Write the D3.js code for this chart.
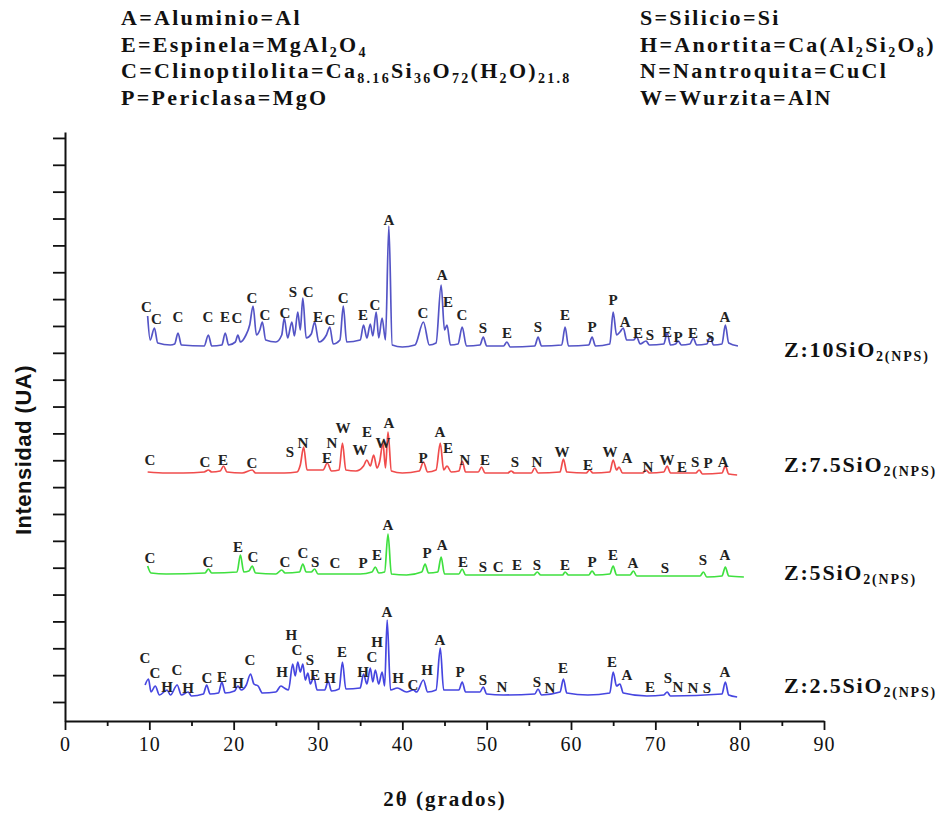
<!DOCTYPE html>
<html><head><meta charset="utf-8">
<script src="https://cdn.jsdelivr.net/npm/d3@7/dist/d3.min.js"></script>
<style>
body{margin:0;background:#fff;}
svg{display:block;}
text{font-family:"Liberation Serif","Times New Roman",serif;}
</style></head>
<body>
<svg id="chart" width="951" height="813"></svg>
<script>
// ---------- DATA ----------
const xTickLabels = [0,10,20,30,40,50,60,70,80,90];
const xMinorTicks = [5,15,25,35,45,55,65,75,85];
const yTickValues = d3.range(0,22).map(k => 19 + k*26.86);   // intensity ticks (a.u.)

const seriesNames = ["Z:10SiO_{2(NPS)}","Z:7.5SiO_{2(NPS)}","Z:5SiO_{2(NPS)}","Z:2.5SiO_{2(NPS)}"];
const seriesColors = ["#5454c6","#f04c4c","#3fe03f","#4646e0"];
const seriesLabelY = [364, 249, 141, 28];   // intensity level of each series name

const trace10 = [[9.8,405],[10.1,381],[10.6,393],[11.0,378],[12.5,376],[13.0,377],[13.4,388],[13.8,376],[16.5,375],[17.0,386],[17.4,375],[18.6,376],[19.0,388],[19.4,376],[20.2,379],[20.5,386],[20.8,379],[21.4,385],[21.9,396],[22.3,415],[22.7,386],[23.1,391],[23.4,399],[23.8,381],[25.0,379],[25.7,386],[26.0,403],[26.4,383],[26.9,399],[27.2,385],[27.6,409],[27.9,391],[28.2,423],[28.6,383],[29.2,387],[29.6,399],[30.1,379],[31.0,386],[31.4,394],[31.8,377],[32.6,381],[33.0,415],[33.4,379],[35.0,381],[35.4,396],[35.8,383],[36.2,397],[36.5,385],[36.9,409],[37.2,383],[37.6,403],[38.0,381],[38.4,495],[38.8,376],[40.0,374],[41.5,376],[42.5,399],[43.2,376],[44.0,378],[44.6,436],[45.0,391],[45.3,396],[45.7,376],[46.6,377],[47.1,394],[47.6,375],[49.2,376],[49.6,384],[50.0,375],[52.0,375],[52.4,379],[52.8,374],[55.7,375],[56.1,384],[56.5,375],[58.9,376],[59.3,394],[59.7,375],[62.1,376],[62.5,384],[62.9,375],[64.6,377],[65.0,409],[65.4,386],[65.8,389],[66.2,393],[66.6,381],[67.4,381],[67.8,384],[68.2,377],[68.9,380],[69.3,376],[71.0,377],[71.4,388],[71.8,376],[72.4,377],[72.7,380],[73.1,376],[74.1,377],[74.5,383],[74.9,376],[76.1,377],[76.5,384],[76.9,376],[77.9,377],[78.3,396],[78.7,378],[79.8,375]];

const trace75 = [[9.8,249],[12,248],[14,248],[16.5,249],[17.0,251],[17.4,249],[18.4,250],[18.8,255],[19.2,249],[21,248],[22.2,251],[22.6,248],[26,248],[27.5,249],[27.9,256],[28.3,274],[28.7,251],[30.6,251],[31.1,258],[31.6,250],[32.5,251],[32.9,278],[33.3,251],[34.5,250],[35.4,255],[35.8,261],[36.2,255],[36.6,266],[37.0,253],[37.3,259],[37.7,278],[38.0,253],[38.3,289],[38.7,250],[40,248],[42.0,250],[42.5,259],[43.0,249],[44.0,251],[44.5,278],[44.9,251],[45.3,255],[45.8,249],[46.7,250],[47.1,260],[47.5,249],[49.0,249],[49.4,254],[49.8,248],[52.5,248],[52.9,250],[53.3,248],[55.3,248],[55.7,253],[56.1,248],[58.7,249],[59.1,262],[59.5,249],[61.8,248],[62.2,251],[62.6,248],[64.6,249],[65.0,261],[65.4,251],[65.7,254],[66.1,248],[68.5,248],[68.9,251],[69.3,248],[71.0,249],[71.4,255],[71.8,248],[74.8,248],[75.2,251],[75.6,247],[77.9,248],[78.3,255],[78.7,247],[79.7,246]];

const trace5 = [[9.8,155],[10.2,148],[12,147],[16.6,148],[17.0,152],[17.4,148],[20.4,149],[20.8,166],[21.2,149],[21.8,150],[22.2,155],[22.6,148],[25,147],[25.7,151],[26.1,148],[27.8,149],[28.2,157],[28.6,149],[29.2,149],[29.6,152],[30.0,147],[33,147],[35,147],[36.4,149],[36.8,154],[37.2,148],[37.9,149],[38.3,187],[38.7,147],[40.5,146],[42.3,149],[42.7,157],[43.1,148],[44.2,149],[44.6,164],[45.0,147],[46.7,147],[47.1,152],[47.5,146],[55.6,146],[56.0,149],[56.4,146],[59.0,146],[59.3,149],[59.7,146],[62.1,146],[62.5,150],[62.9,146],[64.6,147],[65.0,155],[65.4,146],[67.0,146],[67.4,150],[67.8,145],[75.3,145],[75.7,149],[76.1,144],[77.9,145],[78.3,154],[78.7,145],[80.5,144]];

const trace25 = [[9.5,36],[9.9,42],[10.2,29],[10.7,35],[11.2,26],[12.1,31],[12.5,26],[13.3,36],[13.8,26],[14.6,29],[15.0,25],[16.4,27],[16.8,36],[17.2,27],[18.2,28],[18.6,39],[19.0,28],[20.1,30],[20.5,35],[20.9,31],[21.5,36],[22.0,47],[22.4,37],[22.9,35],[23.4,28],[25.0,29],[25.6,35],[26.0,33],[26.5,31],[27.0,57],[27.3,45],[27.6,59],[27.9,49],[28.2,57],[28.5,41],[28.8,48],[29.1,37],[29.5,44],[29.9,31],[30.8,31],[31.2,40],[31.6,30],[32.5,32],[32.9,59],[33.3,32],[35.0,33],[35.4,47],[35.8,37],[36.2,53],[36.5,39],[36.8,51],[37.2,37],[37.6,49],[37.9,35],[38.2,101],[38.6,31],[39.4,33],[40.5,29],[41.3,31],[41.7,29],[42.5,41],[43.0,29],[44.0,31],[44.5,73],[44.9,31],[46.7,31],[47.1,39],[47.5,29],[49.2,29],[49.6,34],[50.0,27],[52,26],[55.7,27],[56.1,32],[56.5,26],[58.7,29],[59.1,42],[59.5,28],[62,26],[64.6,28],[65.0,49],[65.4,35],[65.8,37],[66.2,28],[69,25],[71,26],[71.4,29],[71.8,25],[77.9,27],[78.3,39],[78.7,26],[79.7,24]];

// peak identification letters: [letter, 2theta, intensity]
const peaks10 = [["C",9.65,414],["C",10.85,402],["C",13.4,404],["C",16.96,404],["E",18.97,404],["C",20.4,403],["C",22.17,423],["C",23.72,406],["C",26.09,408],["S",27.04,429],["C",28.82,429],["E",30.0,404],["C",31.42,401],["C",32.97,423],["E",35.34,406],["C",36.76,416],["A",38.42,501],["C",42.45,408],["A",44.71,446],["E",45.42,419],["C",47.08,406],["S",49.57,393],["E",52.41,388],["S",56.09,394],["E",59.29,406],["P",62.49,394],["P",64.98,421],["A",66.41,399],["E",67.95,388],["S",69.37,386],["E",71.39,389],["P",72.69,384],["E",74.47,388],["S",76.49,384],["A",78.26,404]];
const peaks75 = [["C",10.08,261],["C",16.6,259],["E",18.74,261],["C",22.17,258],["S",26.68,269],["N",28.22,278],["E",31.07,263],["N",31.66,278],["W",32.97,293],["W",34.98,271],["E",35.81,289],["W",37.71,278],["A",38.42,298],["P",42.45,263],["A",44.47,289],["E",45.42,273],["N",47.43,261],["E",49.8,261],["S",53.36,259],["N",55.97,259],["W",58.94,269],["E",62.02,256],["W",64.63,269],["A",66.64,263],["N",69.13,254],["W",71.39,261],["E",73.17,254],["S",74.71,259],["P",76.25,258],["A",78.03,259]];
const peaks5 = [["C",10.08,163],["C",16.96,159],["E",20.51,174],["C",22.29,164],["C",26.09,159],["C",28.22,168],["S",29.65,159],["C",32.02,158],["P",35.34,158],["E",37.0,166],["A",38.3,196],["P",42.93,168],["A",44.71,176],["E",47.2,159],["S",49.57,154],["C",51.35,154],["E",53.6,156],["S",55.97,156],["E",59.29,156],["P",62.49,159],["E",64.98,166],["A",67.35,158],["S",71.15,153],["S",75.65,161],["A",78.26,166]];
const peaks25 = [["C",9.49,63],["C",10.67,48],["H",12.1,34],["C",13.28,51],["H",14.59,33],["C",16.84,43],["E",18.62,44],["H",20.51,38],["C",21.94,61],["H",25.73,49],["H",26.85,86],["C",27.51,71],["S",29.05,61],["E",29.65,46],["H",31.42,43],["E",32.85,69],["H",35.34,49],["C",36.4,64],["H",37.0,79],["A",38.18,109],["H",39.49,43],["C",41.27,36],["H",42.93,51],["A",44.47,81],["P",46.84,49],["S",49.57,41],["N",51.82,34],["S",55.97,39],["N",57.51,33],["E",59.05,53],["E",64.86,59],["A",66.64,46],["E",69.37,34],["S",71.5,43],["N",72.69,34],["N",74.47,33],["S",76.13,33],["A",78.26,49]];

const legendLeft = ["A=Aluminio=Al","E=Espinela=MgAl_{2}O_{4}","C=Clinoptilolita=Ca_{8.16}Si_{36}O_{72}(H_{2}O)_{21.8}","P=Periclasa=MgO"];
const legendRight = ["S=Silicio=Si","H=Anortita=Ca(Al_{2}Si_{2}O_{8})","N=Nantroquita=CuCl","W=Wurzita=AlN"];
const xTitle = "2θ (grados)";
const yTitle = "Intensidad (UA)";

// ---------- CHART ----------
const svg = d3.select("#chart");
const x = d3.scaleLinear().domain([0,90]).range([65,824]);
const y = d3.scaleLinear().domain([0,589]).range([721,132]);

function rich(sel, str, subSize, shift){
  const parts = str.split(/(_\{[^}]*\})/).filter(s => s.length);
  let down = false;
  parts.forEach(p => {
    if (p.startsWith("_{")) {
      sel.append("tspan").attr("font-size", subSize).attr("dy", down ? 0 : shift).text(p.slice(2,-1));
      down = true;
    } else {
      sel.append("tspan").attr("dy", down ? -shift : 0).text(p);
      down = false;
    }
  });
}

// legend
const lg = svg.append("g").attr("font-weight","bold").attr("font-size",22).attr("letter-spacing","2.3px").attr("fill","#111");
legendLeft.forEach((s,i)=>{ rich(lg.append("text").attr("x",121).attr("y",25+i*26.7), s, 14, 5); });
legendRight.forEach((s,i)=>{ rich(lg.append("text").attr("x",640).attr("y",25+i*26.7), s, 14, 5); });

// axes
const xAxis = svg.append("g").attr("transform",`translate(0,${y.range()[0]})`)
  .call(d3.axisBottom(x).tickValues(xTickLabels).tickSize(9).tickSizeOuter(0).tickPadding(7).tickFormat(d3.format("d")));
svg.append("g").attr("transform",`translate(0,${y.range()[0]})`)
  .call(d3.axisBottom(x).tickValues(xMinorTicks).tickSize(5).tickFormat("")).select(".domain").remove();
const yAxis = svg.append("g").attr("transform",`translate(${x.range()[0]},0)`)
  .call(d3.axisLeft(y).tickValues(yTickValues).tickSize(12).tickSizeOuter(0).tickFormat(""));
svg.selectAll(".domain").attr("stroke","#111").attr("stroke-width",2);
svg.selectAll(".tick line").attr("stroke","#111").attr("stroke-width",1.8);
xAxis.selectAll(".tick text").attr("font-size",20).attr("font-family","Liberation Serif, serif").attr("fill","#111").attr("letter-spacing","1px");

// titles
svg.append("text").attr("x",445).attr("y",806).attr("text-anchor","middle")
  .attr("font-weight","bold").attr("font-size",21).attr("letter-spacing","2px").attr("fill","#111").text(xTitle);
svg.append("text").attr("transform","translate(31,450) rotate(-90)").attr("text-anchor","middle")
  .attr("font-weight","bold").attr("font-size",22).attr("letter-spacing","0.5px").attr("fill","#111")
  .style("font-family","'Liberation Sans Narrow','Liberation Sans',Arial,sans-serif").text(yTitle);

// traces
const traces = [trace10, trace75, trace5, trace25];
const peakSets = [peaks10, peaks75, peaks5, peaks25];
const line = d3.line().x(d=>x(d[0])).y(d=>y(d[1])).curve(d3.curveMonotoneX);
traces.forEach((t,i)=>{
  svg.append("path").datum(t).attr("d",line).attr("fill","none")
    .attr("stroke",seriesColors[i]).attr("stroke-width",1.7).attr("stroke-linejoin","round");
});
peakSets.forEach((ps,i)=>{
  svg.append("g").selectAll("text").data(ps).join("text")
    .attr("x",d=>x(d[1])).attr("y",d=>y(d[2])).attr("dy","0.35em")
    .attr("text-anchor","middle").attr("font-weight","bold").attr("font-size",15).attr("fill","#222")
    .text(d=>d[0]);
});

// series names
seriesNames.forEach((s,i)=>{
  const t = svg.append("text").attr("x",784).attr("y",y(seriesLabelY[i]))
    .attr("font-weight","bold").attr("font-size",22).attr("letter-spacing","1.8px").attr("fill","#111");
  rich(t, s, 14, 4);
});
</script>
</body></html>
